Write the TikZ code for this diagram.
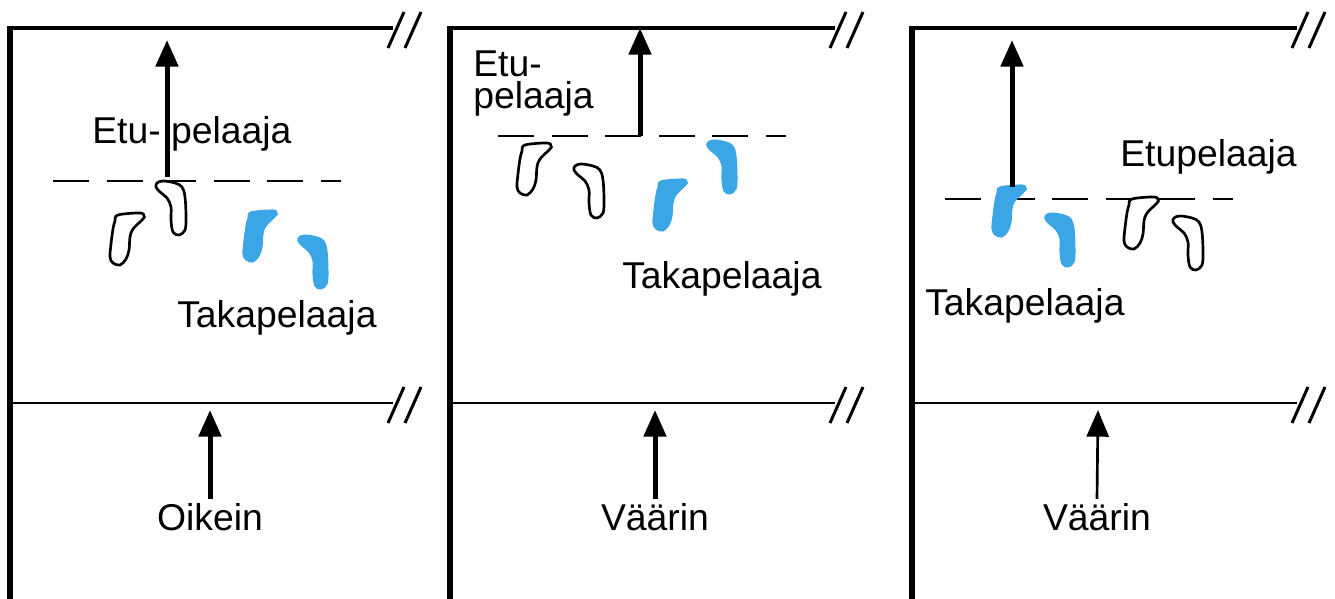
\documentclass[tikz,border=0pt]{standalone}
\usepackage{fontspec}
\setmainfont{Liberation Sans}
\usetikzlibrary{arrows.meta}
\definecolor{footblue}{RGB}{58,166,230}
\tikzset{
  footA/.pic={\path[pic actions] plot[smooth cycle, tension=0.6] coordinates {(10,3) (32,1) (36,4) (35,7) (25,17) (22,25) (21,38) (18,47) (12,53) (5,51) (2,45) (3,32) (5,17) (7,9)};},
  footB/.pic={\path[pic actions] plot[smooth cycle, tension=0.6] coordinates {(2,3) (8,1) (20,3) (27,7) (30,17) (31,37) (30,50) (24,55) (18,52) (16,40) (16,27) (12,18) (5,12) (1,7)};},
  brk/.pic={\draw[breakline] (-5,20) -- (11,-16) (12,20) -- (28,-16);}
}
\begin{document}
\begin{tikzpicture}[x=0.75pt, y=-0.75pt,
    wall/.style={line width=4pt},
    edge/.style={line width=3pt},
    floorline/.style={line width=2pt},
    breakline/.style={line width=2.25pt},
    rowline/.style={line width=1.8pt, dash pattern=on 27pt off 13.2pt},
    push/.style={line width=3.75pt, -{Triangle[width=16.5pt,length=20pt]}},
    thinpush/.style={push, line width=2pt},
    footout/.style={draw=black, line width=2pt, fill=white},
    footin/.style={fill=footblue, draw=footblue, line width=0.75pt},
    lbl/.style={font=\fontsize{28}{30}\selectfont, inner sep=0pt, anchor=base west},
    verdict/.style={lbl, anchor=base, outer ysep=3pt}]
    \useasboundingbox (0,0) rectangle (1335,599);

    % Draw the walls, panel 1
    \draw[wall] (10,599) -- (10,26);
    \draw[edge] (8,28) -- (393,28);
    \draw[floorline] (10,403) -- (393,403);
    \pic at (393,28) {brk};
    \pic at (393,403) {brk};

    % Draw the walls, panel 2
    \draw[wall] (450,599) -- (450,26);
    \draw[edge] (448,28) -- (835,28);
    \draw[floorline] (450,403) -- (835,403);
    \pic at (835,28) {brk};
    \pic at (835,403) {brk};

    % Draw the walls, panel 3
    \draw[wall] (912,599) -- (912,26);
    \draw[edge] (910,28) -- (1297,28);
    \draw[floorline] (912,403) -- (1297,403);
    \pic at (1297,28) {brk};
    \pic at (1297,403) {brk};

    % Lines of the players
    \draw[rowline] (53,181) -- (341,181);
    \draw[rowline] (498,136) -- (786,136);
    \draw[rowline] (945,199) -- (1233,199);
    \draw[line width=1.8pt] (1106,199) -- (1195,199);

    % Feet, panel 1
    \pic[footout] at (108,212) {footA};
    \pic[footout] at (155,180) {footB};
    \pic[footin] at (241,209) {footA};
    \pic[footin] at (297,234) {footB};

    % Feet, panel 2
    \pic[footout] at (515,142) {footA};
    \pic[footout] at (573,163) {footB};
    \pic[footin] at (651,178) {footA};
    \pic[footin] at (706,139) {footB};

    % Feet, panel 3
    \pic[footin] at (990,184) {footA};
    \pic[footin] at (1044,212) {footB};
    \pic[footout] at (1122,196) {footA};
    \pic[footout] at (1172,215) {footB};

    % Labels of the players
    \node[lbl] (etu1) at (92,144) {Etu- pelaaja};
    \node[lbl] (taka1) at (177,327) {Takapelaaja};
    \node[lbl, anchor=north west, align=left, font=\fontsize{28}{24}\selectfont] (etu2) at (473,51) {Etu-\\pelaaja};
    \node[lbl] (taka2) at (622,288) {Takapelaaja};
    \node[lbl] (etu3) at (1120,167) {Etupelaaja};
    \node[lbl] (taka3) at (925,315) {Takapelaaja};

    % Direction of play
    \coordinate (base1) at (167,177);
    \coordinate (tip1) at (167,40);
    \coordinate (base2) at (640,136);
    \coordinate (tip2) at (640,28);
    \coordinate (base3) at (1012,187);
    \coordinate (tip3) at (1012,40);
    \draw[push] (base1) -- (tip1);
    \draw[push] (base2) -- (tip2);
    \draw[push] (base3) -- (tip3);

    % Verdicts under the floor line
    \node[verdict] (oikein) at (210,530) {Oikein};
    \node[verdict] (vaarin2) at (655,530) {Väärin};
    \node[verdict] (vaarin3) at (1097,530) {Väärin};
    \coordinate (up1) at (210,410);
    \coordinate (up2) at (655,410);
    \coordinate (up3) at (1098,410);
    \draw[push] (oikein.north) -- (up1);
    \draw[push] (vaarin2.north) -- (up2);
    \draw[thinpush] (vaarin3.north) -- (up3);
\end{tikzpicture}
\end{document}
